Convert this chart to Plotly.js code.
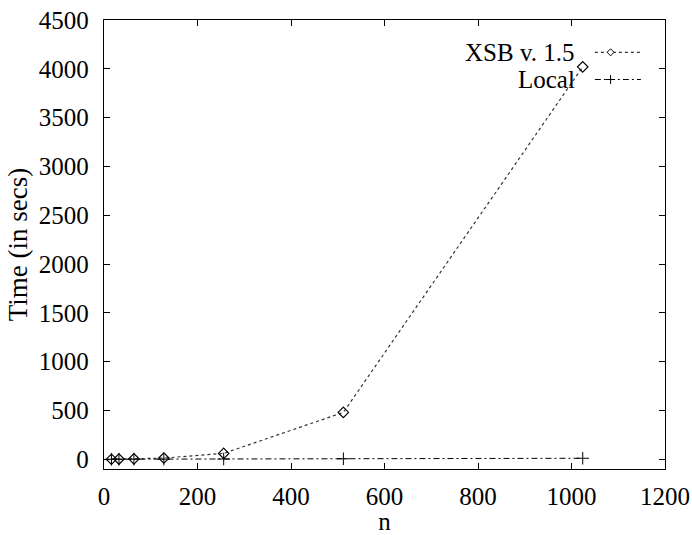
<!DOCTYPE html>
<html>
<head>
<meta charset="utf-8">
<script src="https://cdn.plot.ly/plotly-3.0.1.min.js"></script>
<style>html,body{margin:0;padding:0;background:#fff;}#chart{width:692px;height:535px;}</style>
</head>
<body>
<div id="chart"></div>
<script>
// Data
const n = [16, 32, 64, 128, 256, 512, 1024];
const xsbTime = [0.5, 1.5, 4, 12, 60, 480, 4020];
const localTime = [0.1, 0.2, 0.5, 1, 2.5, 5, 10];
const seriesNames = ['XSB v. 1.5', 'Local'];
const xTickVals = [0, 200, 400, 600, 800, 1000, 1200];
const yTickVals = [0, 500, 1000, 1500, 2000, 2500, 3000, 3500, 4000, 4500];

const FONT = 'Liberation Serif';

const traces = [
  {
    x: n, y: xsbTime, name: seriesNames[0], type: 'scatter', mode: 'lines+markers',
    line: {color: '#333', width: 1.2, dash: 'dot'},
    marker: {symbol: 'diamond-open', size: 8, color: '#000', line: {width: 1.2, color: '#000'}},
    showlegend: false
  },
  {
    x: n, y: localTime, name: seriesNames[1], type: 'scatter', mode: 'lines+markers',
    line: {color: '#000', width: 1, dash: '6px,3px,2px,3px'},
    marker: {symbol: 'cross-thin-open', size: 9, color: '#000', line: {width: 1, color: '#000'}},
    showlegend: false
  }
];

// legend (gnuplot style: text right-aligned, sample to the right)
const lx0 = 0.875, lx1 = 0.957, lmx = 0.903;
const ly = [0.928, 0.8675];
const dx = 0.0062, dy = 0.0078;
const shapes = [
  {type: 'line', xref: 'paper', yref: 'paper', x0: lx0, x1: lx1, y0: ly[0], y1: ly[0],
   line: {color: '#333', width: 1.2, dash: 'dot'}},
  {type: 'path', xref: 'paper', yref: 'paper',
   path: `M${lmx - dx},${ly[0]} L${lmx},${ly[0] + dy} L${lmx + dx},${ly[0]} L${lmx},${ly[0] - dy} Z`,
   fillcolor: '#fff', line: {color: '#000', width: 1}},
  {type: 'line', xref: 'paper', yref: 'paper', x0: lx0, x1: lx1, y0: ly[1], y1: ly[1],
   line: {color: '#000', width: 1, dash: '6px,3px,2px,3px'}},
  {type: 'line', xref: 'paper', yref: 'paper', x0: lmx - 0.008, x1: lmx + 0.008, y0: ly[1], y1: ly[1],
   line: {color: '#000', width: 1}},
  {type: 'line', xref: 'paper', yref: 'paper', x0: lmx, x1: lmx, y0: ly[1] - 0.01, y1: ly[1] + 0.01,
   line: {color: '#000', width: 1}}
];
const annotations = seriesNames.map((name, i) => ({
  xref: 'paper', yref: 'paper', x: 0.843, y: ly[i], xanchor: 'right', yanchor: 'middle',
  text: name, showarrow: false, font: {family: FONT, size: 25, color: '#000'}
}));

const layout = {
  width: 692, height: 535,
  margin: {l: 104, r: 27, t: 20, b: 66},
  paper_bgcolor: '#fff', plot_bgcolor: '#fff',
  font: {family: FONT, size: 25, color: '#000'},
  xaxis: {
    showgrid: false, zeroline: false, showline: true, linecolor: '#000', linewidth: 1.2,
    mirror: 'ticks', ticks: 'inside', ticklen: 6, tickwidth: 1, tickcolor: '#000',
    tickfont: {family: FONT, size: 25, color: '#000'},
    range: [0, 1200], tickvals: xTickVals, ticktext: xTickVals.map(String),
    ticklabelstandoff: 5,
    title: {text: 'n', font: {family: FONT, size: 25, color: '#000'}, standoff: 3}
  },
  yaxis: {
    showgrid: false, zeroline: false, showline: true, linecolor: '#000', linewidth: 1.2,
    mirror: 'ticks', ticks: 'inside', ticklen: 6, tickwidth: 1, tickcolor: '#000',
    tickfont: {family: FONT, size: 25, color: '#000'},
    range: [-100, 4500], tickvals: yTickVals, ticktext: yTickVals.map(String),
    ticklabelstandoff: 9,
    title: {text: 'Time (in secs)', font: {family: FONT, size: 27, color: '#000'}, standoff: 3}
  },
  shapes: shapes,
  annotations: annotations,
  showlegend: false
};

Plotly.newPlot('chart', traces, layout, {displayModeBar: false, staticPlot: true});
</script>
</body>
</html>
